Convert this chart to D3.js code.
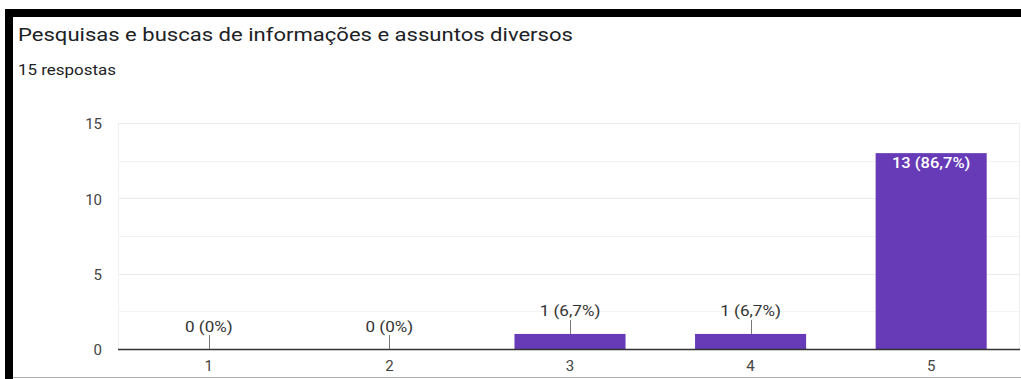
<!DOCTYPE html>
<html>
<head>
<meta charset="utf-8">
<script src="https://cdn.jsdelivr.net/npm/d3@7"></script>
<style>
  html, body { margin: 0; padding: 0; background: #fff; }
  svg { display: block; }
  text { font-family: Roboto, Arial, sans-serif; }
</style>
</head>
<body>
<script>
// Survey answers on a 1–5 scale
const categories = ["1", "2", "3", "4", "5"];
const counts = [0, 0, 1, 1, 13];
const valueLabels = ["0 (0%)", "0 (0%)", "1 (6,7%)", "1 (6,7%)", "13 (86,7%)"];
const yTicks = [0, 5, 10, 15];
const yMinorTicks = [2.5, 7.5, 12.5];
const title = "Pesquisas e buscas de informações e assuntos diversos";
const subtitle = "15 respostas";

const W = 1021, H = 379;
const svg = d3.select("body").append("svg").attr("width", W).attr("height", H);

// Widen a text run horizontally by a given factor (wide, hinted rendering look)
function widen(sel, factor) {
  sel.each(function () {
    const n = this.getComputedTextLength();
    d3.select(this).attr("textLength", n * factor).attr("lengthAdjust", "spacingAndGlyphs");
  });
}

// Frame: black strips on top and left, thin grey rule at the bottom
svg.append("rect").attr("x", 0).attr("y", 0).attr("width", W).attr("height", H).attr("fill", "#fff");
svg.append("rect").attr("x", 5).attr("y", 9).attr("width", W - 5).attr("height", 8).attr("fill", "#000");
svg.append("rect").attr("x", 5).attr("y", 9).attr("width", 8).attr("height", H - 9).attr("fill", "#000");
svg.append("line").attr("x1", 13).attr("x2", W).attr("y1", 377.5).attr("y2", 377.5)
  .attr("stroke", "#b0b0b0").attr("stroke-width", 1.2);

svg.append("text").attr("x", 18).attr("y", 41).attr("font-size", 17.5)
  .attr("fill", "#202124").text(title).call(widen, 1.26);
svg.append("text").attr("x", 18).attr("y", 75).attr("font-size", 14)
  .attr("fill", "#202124").text(subtitle).call(widen, 1.21);

const plotLeft = 118, plotRight = 1021;
const x = d3.scaleBand().domain(categories).range([plotLeft + 1, plotRight]).paddingInner(0.385).paddingOuter(0.19);
const y = d3.scaleLinear().domain([0, 15]).range([349, 123]);

// Grid
const grid = svg.append("g");
grid.selectAll("line.major").data(yTicks.filter(d => d > 0)).join("line")
  .attr("x1", plotLeft).attr("x2", plotRight - 1)
  .attr("y1", d => Math.round(y(d)) + 0.5).attr("y2", d => Math.round(y(d)) + 0.5)
  .attr("stroke", "#ebebeb");
grid.selectAll("line.minor").data(yMinorTicks).join("line")
  .attr("x1", plotLeft).attr("x2", plotRight - 1)
  .attr("y1", d => Math.round(y(d)) + 0.5).attr("y2", d => Math.round(y(d)) + 0.5)
  .attr("stroke", "#f3f3f3");
grid.append("line").attr("x1", plotLeft + 0.5).attr("x2", plotLeft + 0.5)
  .attr("y1", y(15)).attr("y2", y(0)).attr("stroke", "#f0f0f0");
grid.append("line").attr("x1", plotRight - 1.5).attr("x2", plotRight - 1.5)
  .attr("y1", y(15)).attr("y2", y(0)).attr("stroke", "#f0f0f0");

// Y axis labels
const yAxis = d3.axisLeft(y).tickValues(yTicks).tickSize(0).tickPadding(0).tickFormat(d3.format("d"));
const gy = svg.append("g").attr("transform", `translate(102,0)`).call(yAxis);
gy.select(".domain").remove();
gy.selectAll("text").attr("font-size", 15).attr("dy", "0.38em").attr("fill", "#444")
  .attr("font-family", "Roboto, Arial, sans-serif");

// Bars
svg.selectAll("rect.bar").data(counts).join("rect").attr("class", "bar")
  .attr("x", (d, i) => x(categories[i]))
  .attr("width", x.bandwidth())
  .attr("y", d => y(d))
  .attr("height", d => y(0) - y(d))
  .attr("fill", "#673ab7");

// Baseline
svg.append("line").attr("x1", plotLeft).attr("x2", plotRight - 1)
  .attr("y1", y(0) + 0.5).attr("y2", y(0) + 0.5).attr("stroke", "#333").attr("stroke-width", 1.5);

// X axis labels
const xAxis = d3.axisBottom(x).tickSize(0).tickPadding(0);
const gx = svg.append("g").attr("transform", `translate(0,${y(0) + 11})`).call(xAxis);
gx.select(".domain").remove();
gx.selectAll("text").attr("font-size", 15).attr("fill", "#444").attr("font-family", "Roboto, Arial, sans-serif");

// Value labels: outside with a leader for short bars, inside for the tall one
counts.forEach((d, i) => {
  const cx = x(categories[i]) + x.bandwidth() / 2;
  const inside = y(0) - y(d) > 30;
  if (inside) {
    svg.append("text").attr("x", cx).attr("y", y(d) + 15).attr("text-anchor", "middle")
      .attr("font-size", 14).attr("fill", "#fff").attr("font-weight", 500).text(valueLabels[i])
      .call(widen, 1.18);
  } else {
    svg.append("line").attr("x1", Math.round(cx) + 0.5).attr("x2", Math.round(cx) + 0.5)
      .attr("y1", y(d) - 14).attr("y2", y(d)).attr("stroke", "#777");
    svg.append("text").attr("x", cx).attr("y", y(d) - 17.5).attr("text-anchor", "middle")
      .attr("font-size", 14).attr("fill", "#333").text(valueLabels[i])
      .call(widen, 1.22);
  }
});
</script>
</body>
</html>
